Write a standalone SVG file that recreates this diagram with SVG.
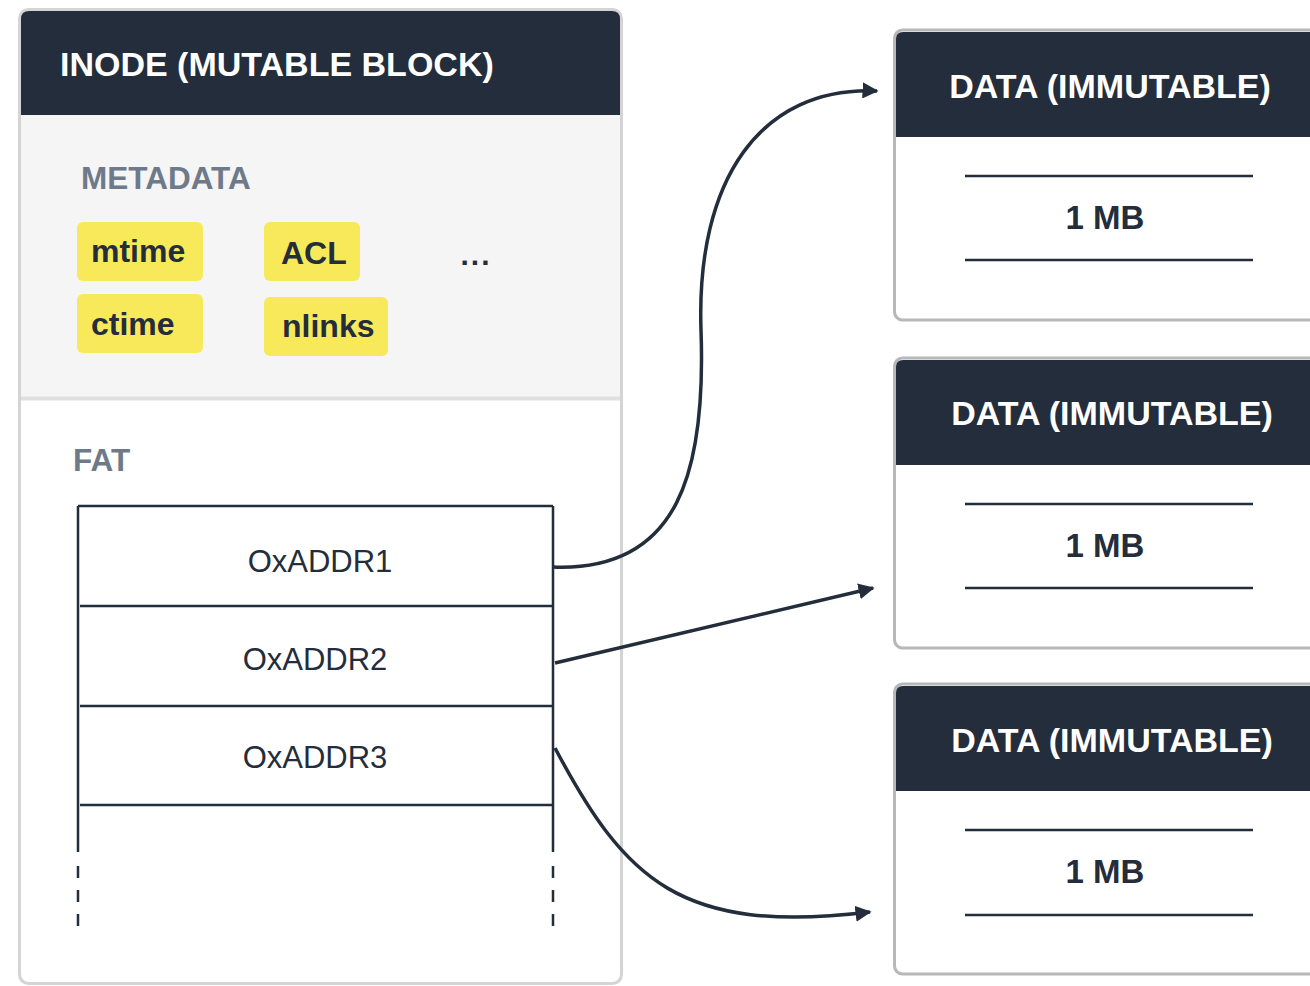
<svg xmlns="http://www.w3.org/2000/svg" width="1310" height="986" viewBox="0 0 1310 986">
<defs>
<style>
.hdr{fill:#232d3b}
.ttl{font-family:"Liberation Sans",Arial,sans-serif;font-weight:bold;font-size:34px;fill:#ffffff}
.lbl{font-family:"Liberation Sans",Arial,sans-serif;font-weight:bold;font-size:31.5px;fill:#6e7a8a}
.chip{fill:#f7e95a}
.chipt{font-family:"Liberation Sans",Arial,sans-serif;font-weight:bold;font-size:32px;fill:#232d3b}
.addr{font-family:"Liberation Sans",Arial,sans-serif;font-size:31px;fill:#232d3b}
.dots{font-family:"Liberation Sans",Arial,sans-serif;font-weight:bold;font-size:30px;fill:#232d3b}
.mb{font-family:"Liberation Sans",Arial,sans-serif;font-weight:bold;font-size:33px;fill:#232d3b}
.ln{stroke:#232d3b;stroke-width:2.5;fill:none}
.conn{stroke:#232d3b;stroke-width:3.5;fill:none;marker-end:url(#arr)}
.dbox{fill:#ffffff;stroke:#b8b8b8;stroke-width:3}
</style>
<marker id="arr" viewBox="0 0 10 10" refX="9" refY="5" markerWidth="4.6" markerHeight="4.6" orient="auto" markerUnits="strokeWidth">
<path d="M0,0 L10,5 L0,10 z" fill="#232d3b"/>
</marker>
</defs>
<rect width="1310" height="986" fill="#ffffff"/>

<g id="inode">
<rect x="19.5" y="9.5" width="602" height="974" rx="9" fill="#ffffff" stroke="#d4d4d4" stroke-width="3"/>
<path class="hdr" d="M21,19 Q21,11 29,11 L612,11 Q620,11 620,19 L620,115 L21,115 z"/>
<text class="ttl" x="60" y="76">INODE (MUTABLE BLOCK)</text>
<rect x="21" y="115" width="599" height="282" fill="#f5f5f5"/>
<line x1="21" y1="398.5" x2="620" y2="398.5" stroke="#e0e0e0" stroke-width="4"/>
<text class="lbl" x="81" y="189">METADATA</text>
<rect class="chip" x="77" y="222" width="126" height="59" rx="6"/>
<text class="chipt" x="91" y="262">mtime</text>
<rect class="chip" x="264" y="222" width="96" height="59" rx="6"/>
<text class="chipt" x="281" y="264">ACL</text>
<rect class="chip" x="77" y="294" width="126" height="59" rx="6"/>
<text class="chipt" x="91" y="335">ctime</text>
<rect class="chip" x="264" y="297" width="124" height="59" rx="6"/>
<text class="chipt" x="282" y="337">nlinks</text>
<text class="dots" x="476" y="265" text-anchor="middle" letter-spacing="2">...</text>
<text class="lbl" x="73" y="471">FAT</text>
<line class="ln" x1="78" y1="506" x2="553" y2="506"/>
<line class="ln" x1="80" y1="606" x2="553" y2="606"/>
<line class="ln" x1="80" y1="706" x2="553" y2="706"/>
<line class="ln" x1="80" y1="805" x2="553" y2="805"/>
<line class="ln" x1="78" y1="506" x2="78" y2="852"/>
<line class="ln" x1="553" y1="506" x2="553" y2="852"/>
<line class="ln" x1="78" y1="866" x2="78" y2="929" stroke-dasharray="12 12"/>
<line class="ln" x1="553" y1="866" x2="553" y2="929" stroke-dasharray="12 12"/>
<text class="addr" x="320" y="572" text-anchor="middle">OxADDR1</text>
<text class="addr" x="315" y="670" text-anchor="middle">OxADDR2</text>
<text class="addr" x="315" y="768" text-anchor="middle">OxADDR3</text>
</g>

<g id="data1">
<rect class="dbox" x="894.5" y="30" width="440" height="290" rx="8"/>
<path class="hdr" d="M896,39 Q896,32 903,32 L1320,32 L1320,137 L896,137 z"/>
<text class="ttl" x="1110" y="98" text-anchor="middle">DATA (IMMUTABLE)</text>
<line class="ln" x1="965" y1="176" x2="1253" y2="176"/>
<text class="mb" x="1105" y="229" text-anchor="middle">1 MB</text>
<line class="ln" x1="965" y1="260" x2="1253" y2="260"/>
</g>

<g id="data2">
<rect class="dbox" x="894.5" y="358" width="440" height="290" rx="8"/>
<path class="hdr" d="M896,367 Q896,360 903,360 L1320,360 L1320,465 L896,465 z"/>
<text class="ttl" x="1112" y="425" text-anchor="middle">DATA (IMMUTABLE)</text>
<line class="ln" x1="965" y1="504" x2="1253" y2="504"/>
<text class="mb" x="1105" y="557" text-anchor="middle">1 MB</text>
<line class="ln" x1="965" y1="588" x2="1253" y2="588"/>
</g>

<g id="data3">
<rect class="dbox" x="894.5" y="684" width="440" height="290" rx="8"/>
<path class="hdr" d="M896,693 Q896,686 903,686 L1320,686 L1320,791 L896,791 z"/>
<text class="ttl" x="1112" y="752" text-anchor="middle">DATA (IMMUTABLE)</text>
<line class="ln" x1="965" y1="830" x2="1253" y2="830"/>
<text class="mb" x="1105" y="883" text-anchor="middle">1 MB</text>
<line class="ln" x1="965" y1="915" x2="1253" y2="915"/>
</g>

<g id="connectors">
<path class="conn" d="M553,567 C680,572 706,470 701,330 C696,180 760,86 877,91"/>
<path class="conn" d="M555,663 L873,588"/>
<path class="conn" d="M555,748 C625,880 680,935 870,912"/>
</g>
</svg>
